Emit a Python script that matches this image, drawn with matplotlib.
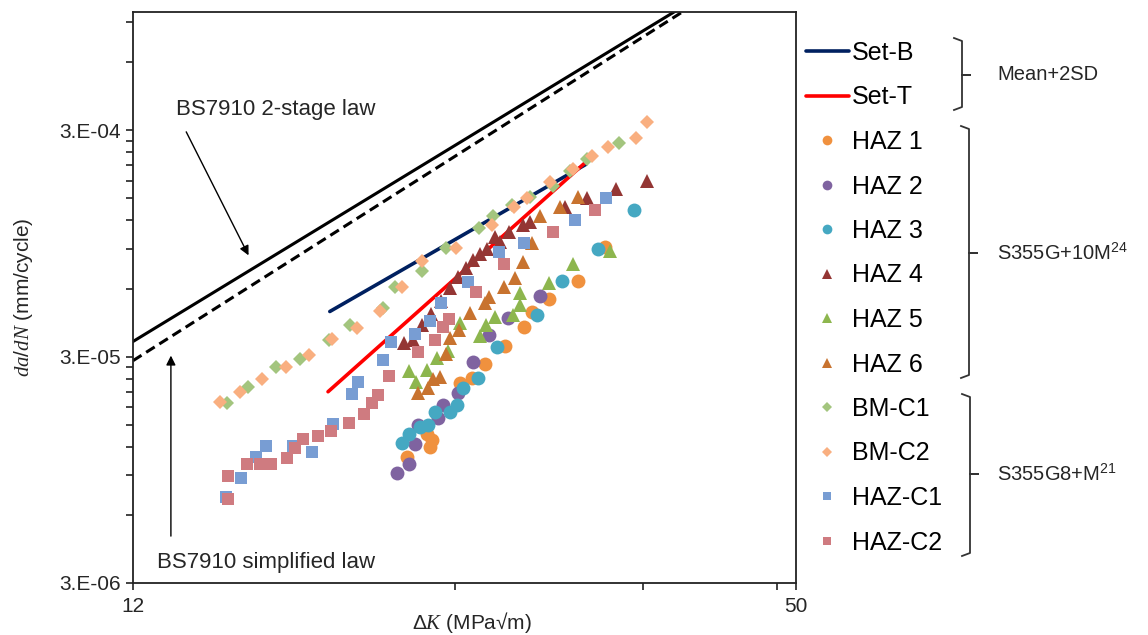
import numpy as np
import matplotlib
matplotlib.use("Agg")
from matplotlib import pyplot as plt
from matplotlib.lines import Line2D
from matplotlib.ticker import FixedLocator, NullFormatter

plt.rcParams['font.family'] = ['Liberation Sans', 'DejaVu Sans']
plt.rcParams['mathtext.fontset'] = 'custom'
plt.rcParams['mathtext.rm'] = 'Liberation Sans'
plt.rcParams['mathtext.it'] = 'Liberation Serif:italic'

# 设计曲线 (ΔK MPa√m, da/dN mm/cycle)
bs_2stage_k = [12, 40]
bs_2stage_r = [3.5e-5, 1.12e-3]
bs_simple_k = [12, 40]
bs_simple_r = [2.88e-5, 1.067e-3]
setb_k = [18.33, 31.8]
setb_r = [4.75e-5, 2.12e-4]
sett_k = [18.26, 31.8]
sett_r = [2.1e-5, 2.17e-4]

# 试验数据
haz1_k = [21.64, 22.59, 22.74, 22.83, 24.25, 24.89, 25.59, 26.72, 27.83, 28.32, 29.37, 31.26, 33.13]
haz1_r = [1.08e-5, 1.36e-5, 1.20e-5, 1.29e-5, 2.30e-5, 2.42e-5, 2.79e-5, 3.36e-5, 4.07e-5, 4.75e-5, 5.42e-5, 6.51e-5, 9.2e-5]
haz2_k = [21.18, 21.73, 22.01, 22.16, 23.13, 23.38, 24.15, 24.94, 25.81, 26.89, 28.81]
haz2_r = [9.2e-6, 1.01e-5, 1.24e-5, 1.50e-5, 1.61e-5, 1.84e-5, 2.08e-5, 2.85e-5, 3.75e-5, 4.46e-5, 5.58e-5]
haz3_k = [21.41, 21.73, 22.25, 22.64, 22.98, 23.74, 24.10, 24.41, 25.21, 26.26, 28.62, 30.20, 32.64, 35.27]
haz3_r = [1.25e-5, 1.36e-5, 1.46e-5, 1.50e-5, 1.71e-5, 1.71e-5, 1.84e-5, 2.19e-5, 2.42e-5, 3.32e-5, 4.6e-5, 6.51e-5, 9.0e-5, 1.34e-4]
haz4_k = [21.50, 21.92, 22.35, 22.78, 23.28, 23.74, 24.15, 24.57, 24.94, 25.32, 25.70, 26.15, 26.43, 26.95,
          27.77, 28.19, 30.40, 31.87, 33.93, 36.27]
haz4_r = [3.46e-5, 3.57e-5, 4.16e-5, 4.65e-5, 5.31e-5, 6.06e-5, 6.78e-5, 7.43e-5, 8.06e-5, 8.55e-5, 9.0e-5,
          1.01e-4, 9.68e-5, 1.07e-4, 1.15e-4, 1.18e-4, 1.38e-4, 1.50e-4, 1.66e-4, 1.80e-4]
haz5_k = [21.73, 22.06, 22.59, 23.08, 23.63, 24.25, 25.32, 25.65, 26.15, 27.18, 27.59, 27.59, 29.37, 30.93, 33.49]
haz5_r = [2.60e-5, 2.32e-5, 2.63e-5, 2.97e-5, 3.19e-5, 4.24e-5, 3.72e-5, 4.12e-5, 4.51e-5, 4.6e-5, 5.05e-5,
          5.76e-5, 6.38e-5, 7.74e-5, 8.75e-5]
haz6_k = [22.16, 22.64, 22.88, 23.23, 23.53, 23.74, 24.20, 24.78, 25.59, 25.81, 26.66, 27.30, 27.77, 28.32,
          28.81, 30.07, 31.26]
haz6_r = [2.08e-5, 2.19e-5, 2.40e-5, 2.45e-5, 3.09e-5, 3.64e-5, 3.95e-5, 4.7e-5, 5.2e-5, 5.53e-5, 6.12e-5,
          6.71e-5, 7.82e-5, 9.53e-5, 1.25e-4, 1.37e-4, 1.53e-4]
bmc1_k = [14.69, 15.37, 16.32, 17.19, 18.30, 19.14, 20.55, 21.09, 22.35, 23.53, 25.26, 26.04, 27.12, 28.19,
          29.62, 30.73, 31.87, 34.14]
bmc1_r = [1.88e-5, 2.21e-5, 2.71e-5, 2.94e-5, 3.57e-5, 4.16e-5, 4.94e-5, 6.12e-5, 7.2e-5, 9.1e-5, 1.11e-4,
          1.25e-4, 1.41e-4, 1.53e-4, 1.71e-4, 1.98e-4, 2.23e-4, 2.65e-4]
bmc2_k = [14.47, 15.11, 15.84, 16.68, 17.52, 18.41, 19.43, 20.42, 21.41, 22.35, 24.04, 25.98, 27.24, 28.01,
          29.43, 30.93, 32.22, 33.35, 35.42, 36.27]
bmc2_r = [1.90e-5, 2.10e-5, 2.40e-5, 2.71e-5, 3.06e-5, 3.6e-5, 4.03e-5, 4.79e-5, 6.12e-5, 7.9e-5, 9.1e-5,
          1.14e-4, 1.37e-4, 1.50e-4, 1.78e-4, 2.02e-4, 2.30e-4, 2.52e-4, 2.77e-4, 3.26e-4]
hazc1_k = [14.66, 15.14, 15.64, 15.98, 16.93, 17.64, 18.45, 19.22, 19.47, 20.55, 20.91, 22.01, 22.74, 23.28,
           24.67, 26.38, 27.83, 31.06, 33.20]
hazc1_r = [7.2e-6, 8.75e-6, 1.08e-5, 1.21e-5, 1.21e-5, 1.14e-5, 1.52e-5, 2.06e-5, 2.32e-5, 2.91e-5, 3.5e-5,
           3.79e-5, 4.33e-5, 5.2e-5, 6.44e-5, 8.66e-5, 9.53e-5, 1.20e-4, 1.50e-4]
hazc2_k = [14.72, 14.72, 15.34, 15.77, 16.15, 16.71, 17.01, 17.30, 17.87, 18.37, 19.10, 19.72, 20.07, 20.33,
           20.82, 22.16, 22.98, 23.38, 23.68, 25.10, 26.66, 29.62, 32.43]
hazc2_r = [7.06e-6, 8.9e-6, 1.01e-5, 1.01e-5, 1.01e-5, 1.07e-5, 1.18e-5, 1.30e-5, 1.34e-5, 1.41e-5, 1.53e-5,
           1.68e-5, 1.88e-5, 2.04e-5, 2.47e-5, 3.16e-5, 3.57e-5, 4.07e-5, 4.42e-5, 5.82e-5, 7.74e-5, 1.07e-4, 1.33e-4]

fig = plt.figure(figsize=(11.48, 6.35), dpi=100)
ax = fig.add_axes([133 / 1148, 1 - 583 / 635, 663 / 1148, 571 / 635])
ax.set_xscale("log")
ax.set_yscale("log")

# 设计线
ax.plot(bs_2stage_k, bs_2stage_r, color="black", lw=2.2, zorder=2)
ax.plot(bs_simple_k, bs_simple_r, color="black", lw=2.2, ls=(0, (3.3, 1.8)), zorder=2)
l_b, = ax.plot(setb_k, setb_r, color="#002060", lw=2.6, solid_capstyle="round", zorder=2)
l_t, = ax.plot(sett_k, sett_r, color="#FF0000", lw=2.6, solid_capstyle="round", zorder=2)

series = [
    ("HAZ 1", haz1_k, haz1_r, "o", "#F0913E", 10),
    ("HAZ 2", haz2_k, haz2_r, "o", "#7F63A0", 10),
    ("HAZ 3", haz3_k, haz3_r, "o", "#45A8C2", 10),
    ("HAZ 4", haz4_k, haz4_r, "^", "#943634", 10),
    ("HAZ 5", haz5_k, haz5_r, "^", "#8DB64E", 10),
    ("HAZ 6", haz6_k, haz6_r, "^", "#C8732F", 10),
    ("BM-C1", bmc1_k, bmc1_r, "D", "#A3C57E", 7),
    ("BM-C2", bmc2_k, bmc2_r, "D", "#F9AF80", 7),
    ("HAZ-C1", hazc1_k, hazc1_r, "s", "#789DD3", 8),
    ("HAZ-C2", hazc2_k, hazc2_r, "s", "#CF7B80", 8),
]
handles = [l_b, l_t]
labels = ["Set-B", "Set-T"]
for name, k, r, mk, c, ms in series:
    h, = ax.plot(k, r, ls="none", marker=mk, color=c, ms=ms, mew=0, zorder=3)
    handles.append(h)
    labels.append(name)

ax.set_xlim(12, 50)
ax.set_ylim(3e-6, 1e-3)

ax.xaxis.set_major_locator(FixedLocator([12, 50]))
ax.xaxis.set_minor_locator(FixedLocator([24, 36, 48]))
ax.set_xticklabels(["12", "50"])
ax.xaxis.set_minor_formatter(NullFormatter())
ymaj = [3e-6, 3e-5, 3e-4]
ymin = [k * d for d in [3e-6, 3e-5, 3e-4] for k in range(2, 10)]
ax.yaxis.set_major_locator(FixedLocator(ymaj))
ax.yaxis.set_minor_locator(FixedLocator(ymin))
ax.set_yticklabels(["3.E-06", "3.E-05", "3.E-04"])
ax.yaxis.set_minor_formatter(NullFormatter())
ax.tick_params(which="both", direction="out", length=5, width=1.2, color="#222222",
               labelsize=15, labelcolor="#262626")
ax.tick_params(axis="x", pad=5)
ax.tick_params(axis="y", pad=4)
for s in ax.spines.values():
    s.set_linewidth(1.3)
    s.set_color("#222222")

ax.set_xlabel(r"$\mathit{\Delta K}$ (MPa√m)", fontsize=15, color="#262626")
ax.xaxis.set_label_coords(0.512, -0.047)
ax.set_ylabel(r"$\mathit{da/dN}$ (mm/cycle)", fontsize=15, color="#262626")
ax.yaxis.set_label_coords(-0.148, 0.5)

# 标注
ax.text(13.16, 3.72e-4, "BS7910 2-stage law", fontsize=16, color="#262626", ha="left", va="center")
ax.annotate("", xy=(15.43, 8.2e-5), xytext=(13.42, 3.03e-4),
            arrowprops=dict(arrowstyle="-|>", color="black", lw=1, mutation_scale=14))
ax.text(12.64, 3.68e-6, "BS7910 simplified law", fontsize=16, color="#262626", ha="left", va="center")
ax.annotate("", xy=(13.02, 3.12e-5), xytext=(13.02, 4.7e-6),
            arrowprops=dict(arrowstyle="-|>", color="black", lw=1, mutation_scale=14))

fig.legend(handles, labels, loc="upper left", bbox_to_anchor=(806 / 1148, 1 - 41 / 635),
           frameon=False, fontsize=18, handlelength=1.7, handletextpad=0.15, labelspacing=0.82,
           borderpad=0, borderaxespad=0, numpoints=1, markerscale=0.7)


def bracket(x, y0, y1, ym, serif=8, tick=8):
    W, H = 1148, 635
    xs = [x - serif, x, x, x + tick, x, x, x - serif]
    ys = [y0, y0 + 3, ym, ym, ym, y1 - 3, y1]
    fig.add_artist(Line2D([v / W for v in xs], [1 - v / H for v in ys], color="#333333", lw=1.3))


bracket(962, 38, 110, 75)
bracket(969, 126, 378, 253)
bracket(970, 394, 556, 474)
fig.text(997 / 1148, 1 - 75 / 635, "Mean+2SD", fontsize=14.5, color="#262626", va="center")
fig.text(997 / 1148, 1 - 253 / 635, "S355G+10M$^{24}$", fontsize=14.5, color="#262626", va="center")
fig.text(997 / 1148, 1 - 474 / 635, "S355G8+M$^{21}$", fontsize=14.5, color="#262626", va="center")

fig.savefig("out.png", dpi=100)
